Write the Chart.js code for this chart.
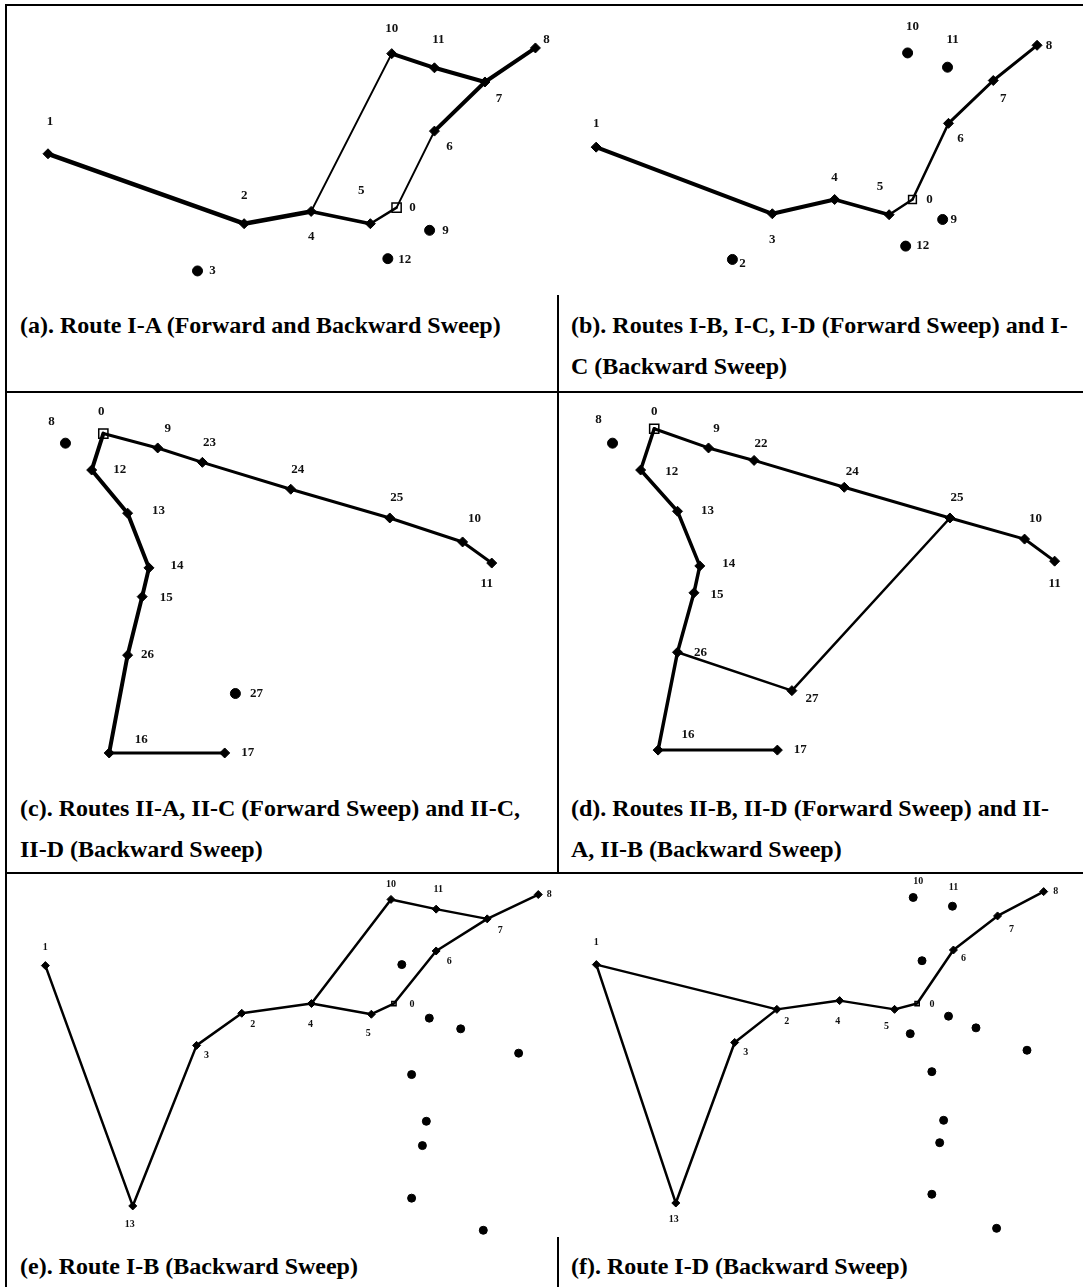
<!DOCTYPE html>
<html><head><meta charset="utf-8">
<script src="https://cdn.jsdelivr.net/npm/chart.js@4.4.1/dist/chart.umd.min.js"></script>
<style>
html,body{margin:0;padding:0;background:#fff;}
#page{position:relative;width:1083px;height:1287px;overflow:hidden;background:#fff;}
#page canvas{position:absolute;}
.ln{position:absolute;background:#000;z-index:5;}
.cap{position:absolute;font-family:"Liberation Serif","Times New Roman",serif;font-weight:bold;font-size:24px;line-height:41px;white-space:nowrap;color:#000;z-index:6;}
</style></head>
<body><div id="page">
<div class="ln" style="left:6px;top:4px;width:1077px;height:2px"></div>
<div class="ln" style="left:5px;top:4px;width:2px;height:1283px"></div>
<div class="ln" style="left:6px;top:391px;width:1077px;height:2px"></div>
<div class="ln" style="left:6px;top:872px;width:1077px;height:2px"></div>
<div class="ln" style="left:557px;top:295px;width:2px;height:97px"></div>
<div class="ln" style="left:557px;top:392px;width:2px;height:481px"></div>
<div class="ln" style="left:557px;top:1237px;width:2px;height:50px"></div>
<div class="cap" style="left:20px;top:305px">(a). Route I-A (Forward and Backward Sweep)</div>
<div class="cap" style="left:571px;top:305px">(b). Routes I-B, I-C, I-D (Forward Sweep) and I-<br>C (Backward Sweep)</div>
<div class="cap" style="left:20px;top:788px">(c). Routes II-A, II-C (Forward Sweep) and II-C,<br>II-D (Backward Sweep)</div>
<div class="cap" style="left:571px;top:788px">(d). Routes II-B, II-D (Forward Sweep) and II-<br>A, II-B (Backward Sweep)</div>
<div class="cap" style="left:20px;top:1246px">(e). Route I-B (Backward Sweep)</div>
<div class="cap" style="left:571px;top:1246px">(f). Route I-D (Backward Sweep)</div>
</div>
<script>
// ---------- DATA (map coordinates of nodes, per panel; y grows downward) ----------
// Panel (a)
const aNodeIds = ['1','2','4','5','0','6','7','8','10','11','9','12','3'];
const aNodeX   = [35,237,306,367,394,433,485,537,389,433,428,385,189];
const aNodeY   = [149,223,210,223,206,125,73,37,43,58,230,260,273];
const aRoutes  = [['1','2','4'],['4','5'],['5','0'],['0','6'],['6','7','8'],['4','10'],['10','11','7']];
// Panel (b)
const bNodeIds = ['1','3','4','5','0','6','7','8','10','11','9','12','2'];
const bNodeX   = [32,213,277,333,357,394,440,485,352,393,388,350,172];
const bNodeY   = [142,212,197,213,197,117,72,35,43,58,218,246,260];
const bRoutes  = [['1','3','4'],['4','5'],['5','0'],['0','6'],['6','7','8']];
// Panel (c)
const cNodeIds = ['0','8','12','13','14','15','26','16','17','27','9','23','24','25','10','11'];
const cNodeX   = [92,53,80,117,139,132,117,98,217,228,148,194,285,387,462,492];
const cNodeY   = [35,45,73,118,175,205,266,368,368,306,50,65,93,123,148,170];
const cRoutes  = [['0','12','13','14','15','26','16'],['16','17'],['0','9','23','24','25','10','11']];
// Panel (d)
const dNodeIds = ['0','8','12','13','14','15','26','16','17','27','9','22','24','25','10','11'];
const dNodeX   = [91,48,77,115,138,132,115,95,218,233,147,194,287,396,473,504];
const dNodeY   = [30,45,73,116,173,201,263,365,365,303,50,63,91,123,145,168];
const dRoutes  = [['0','12','13','14','15','26','16'],['16','17'],['26','27','25'],['0','9','22','24','25','10','11']];
// Panel (e)  ('' = unlabelled customer)
const eNodeIds = ['1','13','3','2','4','5','0','6','7','8','10','11','','','','','','','','',''];
const eNodeX   = [35,124,189,235,306,367,390,433,485,537,387,433,398,426,458,517,408,423,419,408,481];
const eNodeY   = [90,337,172,139,129,140,129,75,42,17,22,32,89,144,155,180,202,250,275,329,362];
const eRoutes  = [['1','13','3','2','4'],['4','5','0','6','7','8'],['4','10','11','7']];
// Panel (f)
const fNodeIds = ['1','13','3','2','4','5','0','6','7','8','10','11','','','','','','','','','',''];
const fNodeX   = [34,115,175,218,282,338,361,398,443,490,357,397,366,393,354,421,473,376,388,384,376,442];
const fNodeY   = [89,334,169,135,126,135,129,74,39,14,20,29,85,142,160,154,177,199,249,272,325,360];
const fRoutes  = [['1','2'],['1','13','3','2','4','5','0','6','7','8']];

// ---------- LAYOUT / STYLE ----------
const panels = [
  {ids:aNodeIds,xs:aNodeX,ys:aNodeY,routes:aRoutes,left:6,top:5,w:552,h:290,
   widths:[4.5,3.5,2.5,2,4,2,4],nodeR:5,depotR:6.5,font:'bold 13px "Liberation Serif"',
   dx:[2,0,0,-9,16,15,14,11,0,4,16,17,15],dy:[-32,-28,25,-33,0,16,17,-8,-25,-28,0,1,0]},
  {ids:bNodeIds,xs:bNodeX,ys:bNodeY,routes:bRoutes,left:558,top:5,w:525,h:290,
   widths:[4,3.5,2.5,2.5,3],nodeR:5,depotR:5.5,font:'bold 13px "Liberation Serif"',
   dx:[0,0,0,-9,17,12,10,12,5,5,11,17,10],dy:[-24,26,-22,-28,0,15,18,0,-26,-28,0,0,4]},
  {ids:cNodeIds,xs:cNodeX,ys:cNodeY,routes:cRoutes,left:6,top:392,w:552,h:392,
   widths:[4,3,3],nodeR:5,depotR:6.5,font:'bold 13px "Liberation Serif"',
   dx:[-2,-14,28,31,28,24,20,32,23,21,10,7,7,7,12,-5],dy:[-22,-22,0,-3,-2,1,-1,-13,0,0,-19,-20,-20,-20,-23,21]},
  {ids:dNodeIds,xs:dNodeX,ys:dNodeY,routes:dRoutes,left:558,top:392,w:525,h:392,
   widths:[3.5,3,2.5,3],nodeR:5,depotR:6.5,font:'bold 13px "Liberation Serif"',
   dx:[0,-14,31,30,29,23,23,30,23,20,8,7,8,7,11,0],dy:[-17,-24,2,-1,-2,2,0,-15,0,8,-19,-17,-16,-20,-20,22]},
  {ids:eNodeIds,xs:eNodeX,ys:eNodeY,routes:eRoutes,left:6,top:873,w:552,h:372,
   widths:[2.5,2.5,2.5],nodeR:4,depotR:3,font:'bold 10px "Liberation Serif"',
   dx:[0,-3,10,11,-1,-3,18,13,13,11,0,2,0,0,0,0,0,0,0,0,0],dy:[-18,18,10,11,21,19,1,10,12,0,-15,-20,0,0,0,0,0,0,0,0,0]},
  {ids:fNodeIds,xs:fNodeX,ys:fNodeY,routes:fRoutes,left:558,top:873,w:525,h:372,
   widths:[2.5,2.5],nodeR:4,depotR:3,font:'bold 10px "Liberation Serif"',
   dx:[0,-2,11,10,-2,-8,15,10,14,12,5,1,0,0,0,0,0,0,0,0,0,0],dy:[-22,16,10,12,21,17,1,8,13,0,-16,-19,0,0,0,0,0,0,0,0,0,0]}
];

const page = document.getElementById('page');
panels.forEach(p => {
  const cv = document.createElement('canvas');
  cv.width = p.w; cv.height = p.h;
  cv.style.left = p.left + 'px'; cv.style.top = p.top + 'px';
  cv.style.width = p.w + 'px'; cv.style.height = p.h + 'px';
  page.appendChild(cv);
  const idx = id => p.ids.indexOf(id);
  const inRoute = new Set(p.routes.flat());
  const datasets = p.routes.map((r, i) => ({
    data: r.map(id => ({x: p.xs[idx(id)], y: p.ys[idx(id)]})),
    showLine: true, borderColor: '#000', borderWidth: p.widths[i],
    pointRadius: 0, pointHoverRadius: 0, clip: false, tension: 0,
    borderJoinStyle: 'round', borderCapStyle: 'round'
  }));
  datasets.push({
    data: p.ids.map((id, i) => ({x: p.xs[i], y: p.ys[i]})),
    showLine: false, clip: false,
    pointStyle: p.ids.map(id => id === '0' ? 'rect' : (inRoute.has(id) ? 'rectRot' : 'circle')),
    pointRadius: p.ids.map(id => id === '0' ? p.depotR : p.nodeR),
    pointHoverRadius: p.ids.map(id => id === '0' ? p.depotR : p.nodeR),
    pointBackgroundColor: p.ids.map(id => id === '0' ? '#fff' : '#000'),
    pointBorderColor: '#000',
    pointBorderWidth: p.ids.map(id => id === '0' ? 1.5 : 1)
  });
  const labelPlugin = {
    id: 'nodeLabels',
    afterDatasetsDraw(chart) {
      const {ctx, scales: {x, y}} = chart;
      ctx.save();
      ctx.font = p.font; ctx.fillStyle = '#111';
      ctx.textAlign = 'center'; ctx.textBaseline = 'middle';
      p.ids.forEach((id, i) => {
        if (!id) return;
        ctx.fillText(id, x.getPixelForValue(p.xs[i]) + p.dx[i], y.getPixelForValue(p.ys[i]) + p.dy[i]);
      });
      ctx.restore();
    }
  };
  new Chart(cv, {
    type: 'scatter',
    data: {datasets},
    options: {
      responsive: false, maintainAspectRatio: false, animation: false,
      layout: {padding: 0},
      events: [],
      plugins: {legend: {display: false}, tooltip: {enabled: false}},
      scales: {
        x: {type: 'linear', min: 0, max: p.w, display: false},
        y: {type: 'linear', min: 0, max: p.h, reverse: true, display: false}
      }
    },
    plugins: [labelPlugin]
  });
});
</script>
</body></html>
